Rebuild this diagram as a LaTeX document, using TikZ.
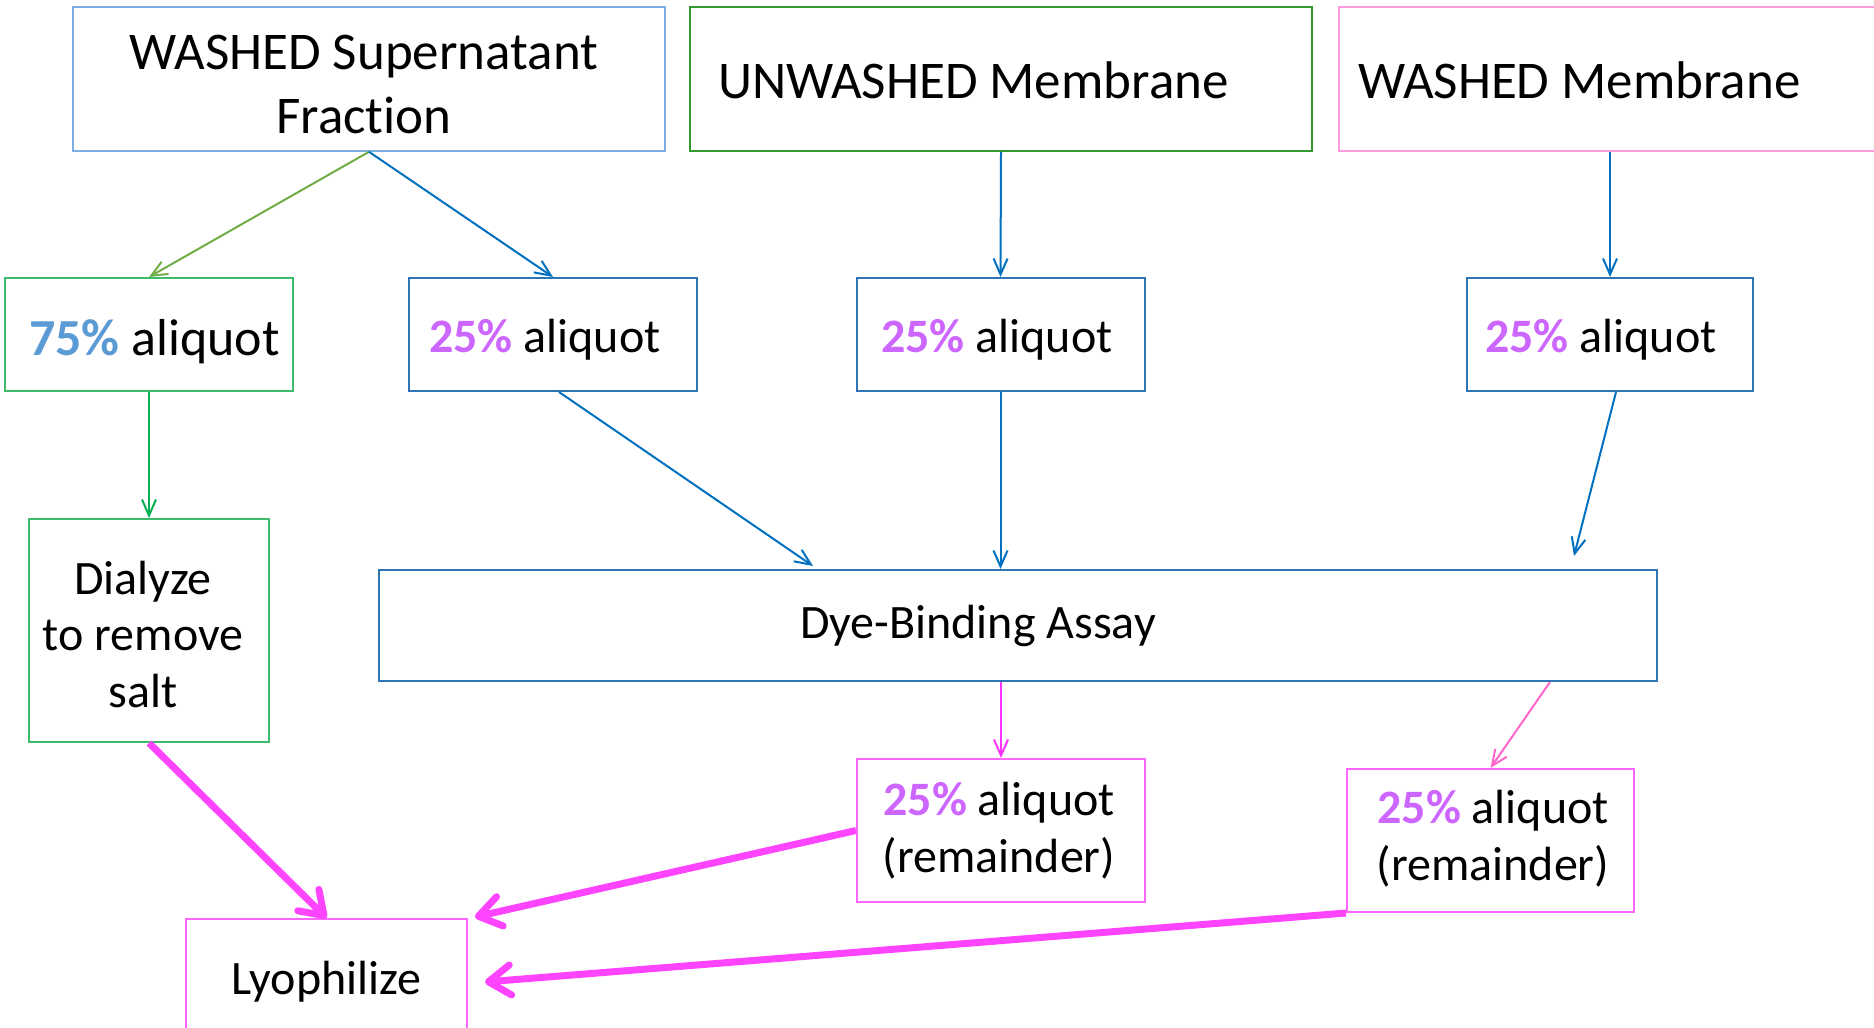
\documentclass[tikz,border=0pt]{standalone}
\usepackage{fontspec}
\setmainfont{Carlito}[Ligatures=NoCommon]
\usetikzlibrary{arrows.meta,calc}
\definecolor{cWS}{HTML}{7DAEE0}
\definecolor{cUNW}{HTML}{339933}
\definecolor{cWM}{HTML}{FF99DD}
\definecolor{cGreenBox}{HTML}{3CBB6A}
\definecolor{cBlue}{HTML}{2E75B6}
\definecolor{cMag}{HTML}{FF66FF}
\definecolor{cArrBlue}{HTML}{0070C0}
\definecolor{cArrGreenA}{HTML}{70AD47}
\definecolor{cArrGreenB}{HTML}{00B050}
\definecolor{cArrMag}{HTML}{FF33FF}
\definecolor{cArrPink}{HTML}{FF66CC}
\definecolor{cThick}{HTML}{FF44FF}
\definecolor{cSeventy}{HTML}{5B9BD5}
\definecolor{cTwenty}{HTML}{CC66FF}
\newcommand{\pct}[2]{\textbf{\textcolor{#1}{#2}}}
\begin{document}
\begin{tikzpicture}[x=1pt,y=-1pt,
  boxnode/.style={draw, line width=2pt, inner sep=0pt},
  txt/.style={inner sep=0pt, align=center},
  bigfont/.style={font=\fontsize{53}{64}\selectfont},
  aliqfont/.style={font=\fontsize{52}{62}\selectfont},
  midfont/.style={font=\fontsize{48}{56.5}\selectfont},
  thinarrow/.style={line width=2pt, -{Straight Barb[length=16pt,width=14pt]}},
  thickarrow/.style={line width=7pt, cThick, -{Straight Barb[length=22pt,width=30pt,round]}}]
\useasboundingbox (0,0) rectangle (1874,1028);
\clip (0,0) rectangle (1874,1028);
% top row
\node[boxnode, draw=cWS, line width=1.6pt, minimum width=592, minimum height=144] (ws) at (369,79) {};
\node[txt, bigfont] (wst) at (364,84.5) {WASHED Supernatant\\Fraction};
\node[boxnode, draw=cUNW, minimum width=622, minimum height=144] (unw) at (1001,79) {};
\node[txt, bigfont, anchor=base west] (unwt) at (718,98) {UNWASHED Membrane};
\node[boxnode, draw=cWM, minimum width=611, minimum height=144] (wm) at (1644.5,79) {};
\node[txt, bigfont, anchor=base west] (wmt) at (1358,98) {WASHED Membrane};
% aliquots
\node[boxnode, draw=cGreenBox, minimum width=288, minimum height=113] (a75) at (149,334.5) {};
\node[txt, aliqfont, anchor=base west] (a75t) at (29,355) {\pct{cSeventy}{75\%} aliquot};
\node[boxnode, draw=cBlue, minimum width=288, minimum height=113] (a25l) at (553,334.5) {};
\node[txt, midfont, anchor=base west] (a25lt) at (429,352) {\pct{cTwenty}{25\%} aliquot};
\node[boxnode, draw=cBlue, minimum width=288, minimum height=113] (a25m) at (1000.5,334.5) {};
\node[txt, midfont, anchor=base west] (a25mt) at (881,352) {\pct{cTwenty}{25\%} aliquot};
\node[boxnode, draw=cBlue, minimum width=286, minimum height=113] (a25r) at (1610,334.5) {};
\node[txt, midfont, anchor=base west] (a25rt) at (1485,352) {\pct{cTwenty}{25\%} aliquot};
% middle row
\node[boxnode, draw=cGreenBox, minimum width=240, minimum height=223] (dial) at (149,630.5) {};
\node[txt, midfont] (dialt) at (143,634.5) {Dialyze\\to remove\\salt};
\node[boxnode, draw=cBlue, minimum width=1278, minimum height=111] (dye) at (1018,625.5) {};
\node[txt, midfont, anchor=base west] (dyet) at (800,638.5) {Dye-Binding Assay};
% bottom row
\node[boxnode, draw=cMag, minimum width=288, minimum height=143] (remm) at (1001,830.5) {};
\node[txt, midfont] (remmt) at (999,830.5) {\pct{cTwenty}{25\%} aliquot\\(remainder)};
\node[boxnode, draw=cMag, minimum width=287, minimum height=143] (remr) at (1490.5,840.5) {};
\node[txt, midfont] (remrt) at (1493,838.5) {\pct{cTwenty}{25\%} aliquot\\(remainder)};
\node[boxnode, draw=cMag, minimum width=281, minimum height=118] (lyo) at (326.5,978) {};
\node[txt, midfont] (lyot) at (326.5,981.5) {Lyophilize};
% connectors
\draw[thinarrow, cArrGreenA] (ws.south) -- (a75.north);
\draw[thinarrow, cArrBlue] (ws.south) -- (a25l.north);
\draw[thinarrow, cArrBlue] (unw.south) -- (a25m.north);
\draw[thinarrow, cArrBlue] (a25r.north |- wm.south) -- (a25r.north);
\draw[thinarrow, cArrGreenB] (a75.south) -- (dial.north);
\draw[thinarrow, cArrBlue] ($(a25l.south)+(6,0)$) -- ($(dye.north west)+(435,-3)$);
\draw[thinarrow, cArrBlue] (a25m.south) -- (a25m.south |- dye.north);
\draw[thinarrow, cArrBlue] ($(a25r.south)+(6,0)$) -- ($(dye.north west)+(1196,-13)$);
\draw[thinarrow, cArrMag] (remm.north |- dye.south) -- (remm.north);
\draw[thinarrow, cArrPink] ($(dye.south west)+(1172,0)$) -- (remr.north);
\draw[thickarrow] (dial.south) -- (lyo.north);
\draw[thickarrow] (remm.west) -- ($(lyo.north east)+(7,-1)$);
\draw[thickarrow] (remr.south west) -- ($(lyo.east)+(17,4)$);
\end{tikzpicture}
\end{document}
